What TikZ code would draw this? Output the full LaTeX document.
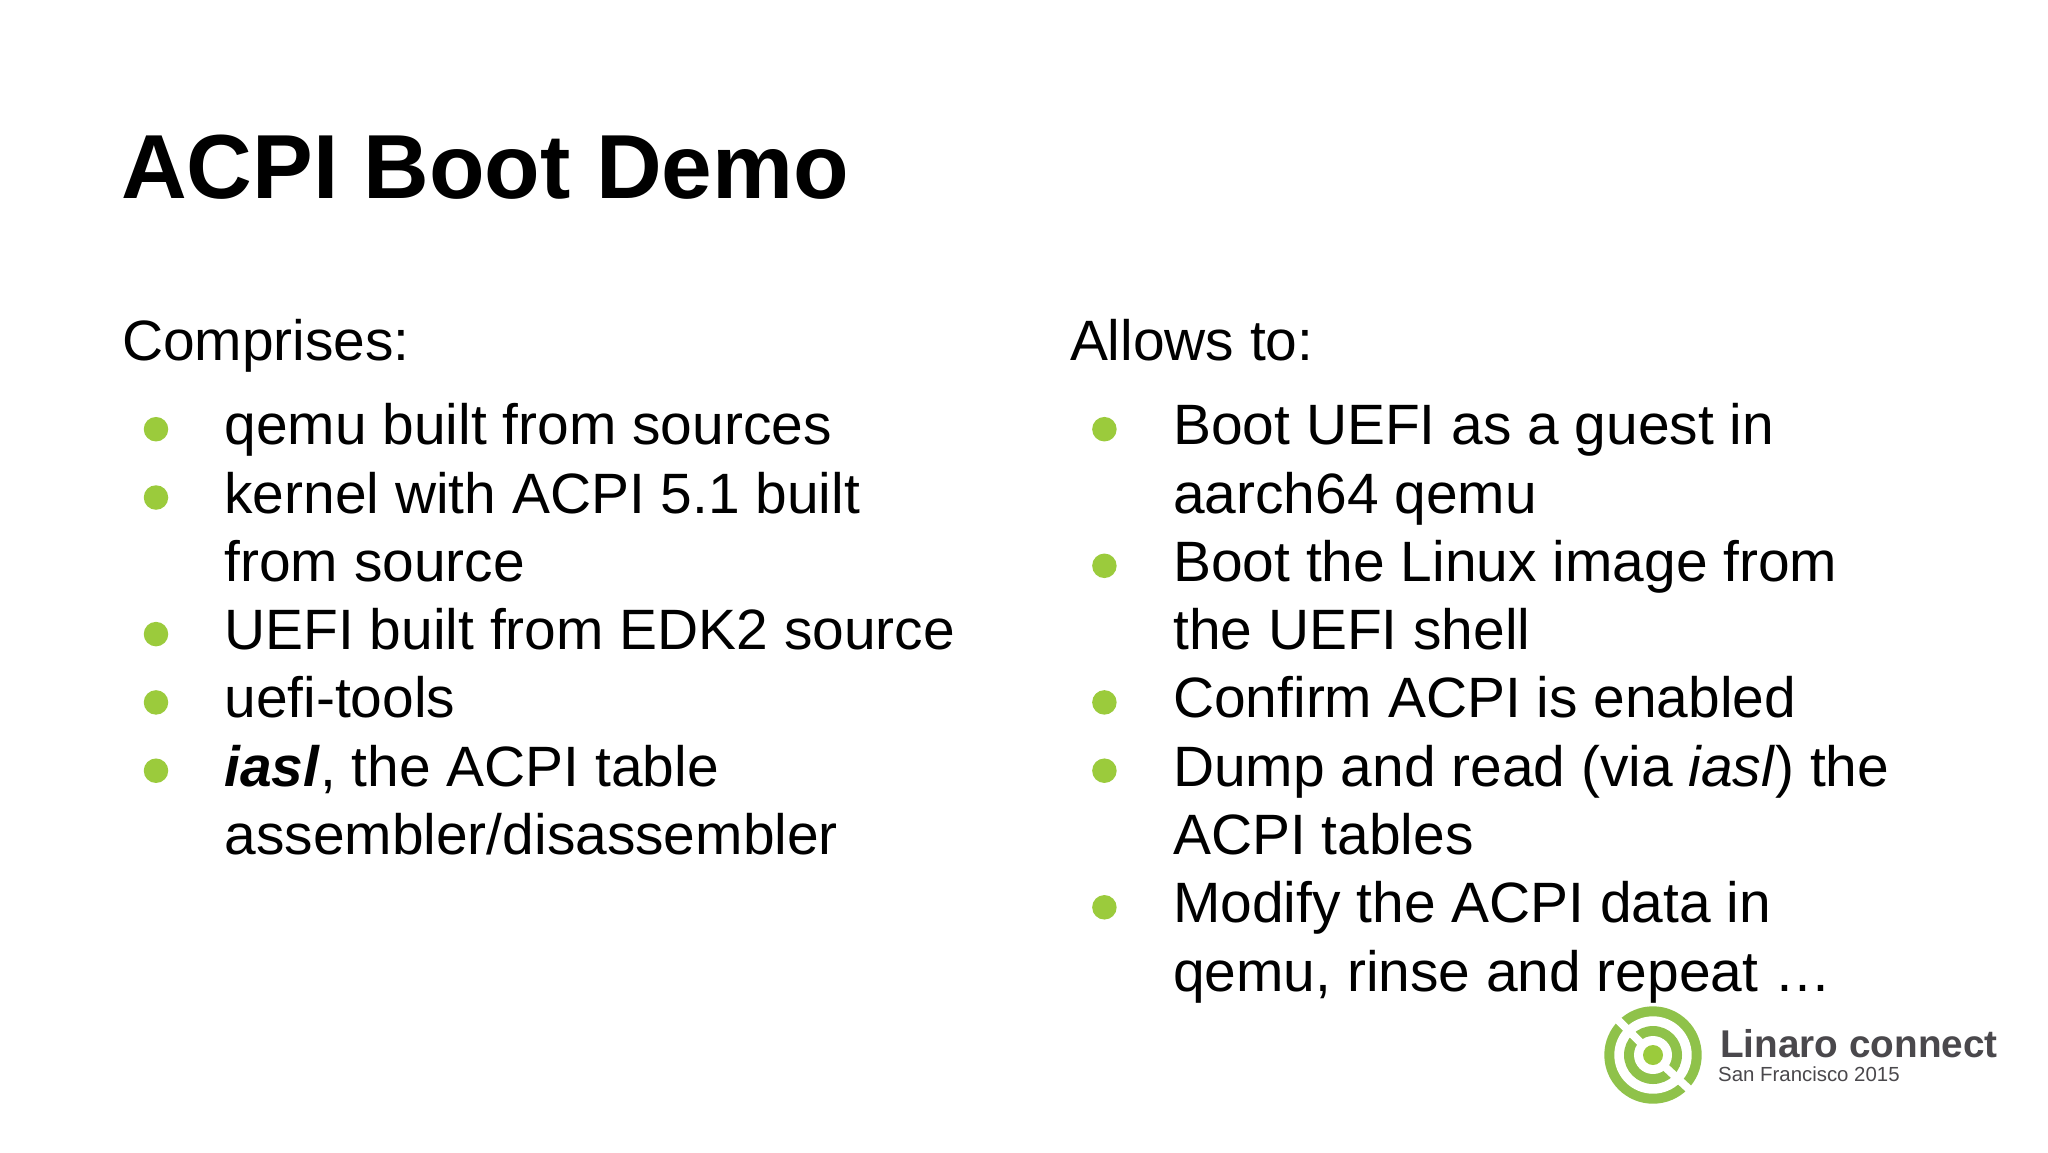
\documentclass[tikz,border=0pt]{standalone}
\usepackage{fontspec}
\usetikzlibrary{calc}
\setmainfont{Liberation Sans}
\definecolor{lgreen}{HTML}{9BCB3C}
\definecolor{lring}{HTML}{8FC24A}
\definecolor{lgrey}{HTML}{4A484C}
\tikzset{
  txt/.style={anchor=base west,inner sep=0pt,outer sep=0pt,text=black,font=\fontsize{56.9}{68}\selectfont},
  ttl/.style={anchor=base west,inner sep=0pt,outer sep=0pt,text=black,font=\fontsize{91}{100}\selectfont\bfseries},
  bul/.style={circle,fill=lgreen,draw=none,minimum size=24.5pt,inner sep=0pt},
  slash/.style={draw=white,line width=8pt}
}
\newcommand{\bitem}[5]{% name, bullet x, text x, baseline, text
  \node[bul] (b#1) at (#2,#4-15.5) {};
  \node[txt] (t#1) at (#3,#4) {#5};}
\newcommand{\cont}[4]{% name, text x, baseline, text
  \node[txt] (t#1) at (#2,#3) {#4};}
\begin{document}
\begin{tikzpicture}[x=1pt,y=-1pt]
\path[use as bounding box,fill=white] (0,0) rectangle (2048,1152);
\node[ttl] (title) at (121,198.5) {ACPI Boot Demo};
\node[txt] (lhead) at (122,360) {Comprises:};
\node[txt] (rhead) at (1070,360) {Allows to:};
% left
\bitem{la}{156}{224.5}{444.7}{qemu built from sources}
\bitem{lb}{156}{224.5}{513}{kernel with ACPI 5.1 built}
\cont{lc}{224.5}{581.3}{from source}
\bitem{ld}{156}{224.5}{649.6}{UEFI built from EDK2 source}
\bitem{le}{156}{224.5}{717.9}{uefi-tools}
\bitem{lf}{156}{224.5}{786.2}{\textbf{\textit{iasl}}, the ACPI table}
\cont{lg}{224.5}{854.5}{assembler/disassembler}
% right
\bitem{ra}{1104.4}{1173.2}{444.7}{Boot UEFI as a guest in}
\cont{rb}{1173.2}{513}{aarch64 qemu}
\bitem{rc}{1104.4}{1173.2}{581.3}{Boot the Linux image from}
\cont{rd}{1173.2}{649.6}{the UEFI shell}
\bitem{re}{1104.4}{1173.2}{717.9}{Confirm ACPI is enabled}
\bitem{rf}{1104.4}{1173.2}{786.2}{Dump and read (via \textit{iasl}) the}
\cont{rg}{1173.2}{854.5}{ACPI tables}
\bitem{rh}{1104.4}{1173.2}{922.8}{Modify the ACPI data in}
\cont{ri}{1173.2}{991.1}{qemu, rinse and repeat …}
% logo
\coordinate (lc) at (1653,1055);
\fill[lring] (lc) circle (48.7);
\fill[white] (lc) circle (38.7);
\fill[lring] (lc) circle (29);
\fill[white] (lc) circle (19);
\draw[slash] ($(lc)+(-38,-38)$) -- ($(lc)+(-10,-10)$);
\draw[slash] ($(lc)+(38,36)$) -- ($(lc)+(10,10)$);
\fill[lgreen] (lc) circle (10);
\node[anchor=base west,inner sep=0pt,text=lgrey,font=\fontsize{38.7}{44}\selectfont\bfseries] (lname) at (1720,1057) {Linaro connect};
\node[anchor=base west,inner sep=0pt,text=lgrey,font=\fontsize{20.4}{24}\selectfont] (lsub) at (1718,1081) {San Francisco 2015};
\end{tikzpicture}
\end{document}
